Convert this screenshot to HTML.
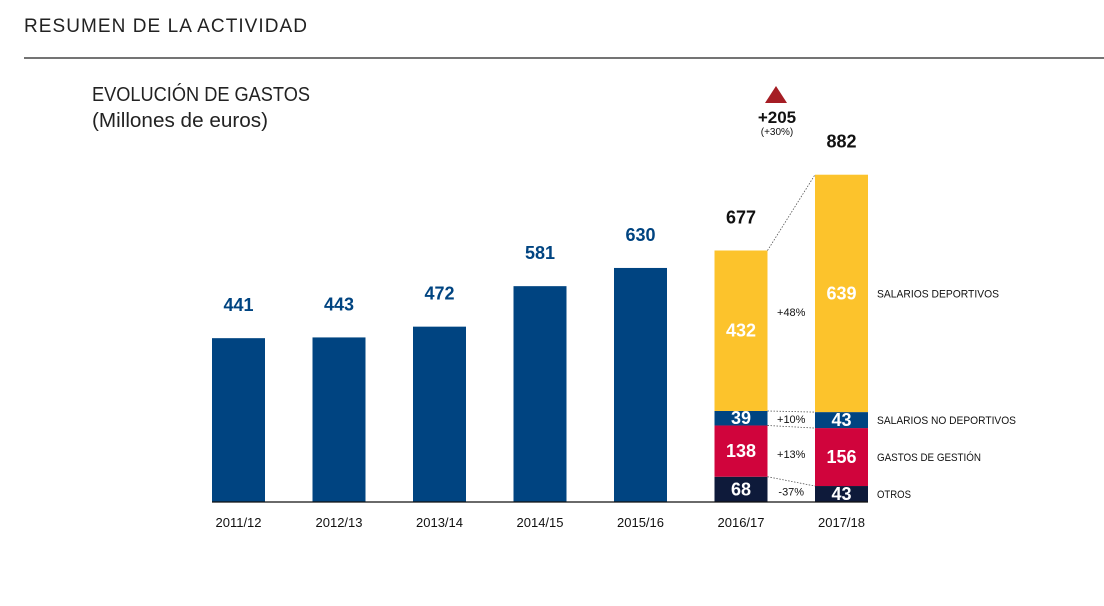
<!DOCTYPE html>
<html><head><meta charset="utf-8"><style>
body{margin:0;background:#fff;width:1104px;height:601px;overflow:hidden;font-family:"Liberation Sans",sans-serif}
</style></head><body>
<svg width="1104" height="601" xmlns="http://www.w3.org/2000/svg">
<text x="24" y="32" font-size="19" letter-spacing="1" fill="#222" textLength="284">RESUMEN DE LA ACTIVIDAD</text>
<line x1="24" y1="58" x2="1104" y2="58" stroke="#222" stroke-width="1.2"/>
<text x="92" y="101" font-size="20" fill="#222" textLength="218" lengthAdjust="spacingAndGlyphs">EVOLUCIÓN DE GASTOS</text>
<text x="92" y="127" font-size="20" fill="#222" textLength="176" lengthAdjust="spacingAndGlyphs">(Millones de euros)</text>
<g id="g"></g>
</svg>
<script>
const categories=["2011/12","2012/13","2013/14","2014/15","2015/16","2016/17","2017/18"];
const totals=[441,443,472,581,630,677,882];
const stackCats=["OTROS","GASTOS DE GESTIÓN","SALARIOS NO DEPORTIVOS","SALARIOS DEPORTIVOS"];
const stack1617=[68,138,39,432];
const stack1718=[43,156,43,639];
const changes=["-37%","+13%","+10%","+48%"];
const diffLabel="+205";
const diffPct="(+30%)";
const colors=["#0e1a3a","#d0043c","#004481","#fcc32c"];
const legendLen=[34,104,139,122];
const NS="http://www.w3.org/2000/svg";
const g=document.getElementById('g');
const base=502,k=0.3715,x0=212,step=100.5,bw=53;
const y=v=>base-v*k;
const xb=i=>x0+i*step;
function el(t,a,txt){const e=document.createElementNS(NS,t);for(const n in a)e.setAttribute(n,a[n]);if(txt!=null)e.textContent=txt;g.appendChild(e);return e;}
const fnt='"Liberation Sans Narrow","Liberation Sans",sans-serif';
categories.forEach((c,i)=>{
  const x=xb(i);
  if(i<5){
    const r=el('rect',{x:x,y:y(totals[i]),width:bw,height:totals[i]*k,fill:'#004481'});
    
    
    const t=el('text',{x:x+bw/2,y:y(totals[i])-27,'text-anchor':'middle','font-size':18,'font-weight':'bold','font-family':fnt,fill:'#004481'},totals[i]);
    
    
  } else {
    const s=i==5?stack1617:stack1718;let acc=0;
    s.forEach((v,j)=>{
      const r=el('rect',{x:x,y:y(acc+v),width:bw,height:v*k,fill:colors[j]});
      
      
      const cy=y(acc+v/2)+6;
      const t=el('text',{x:x+bw/2,y:cy,'text-anchor':'middle','font-size':18,'font-weight':'bold','font-family':fnt,fill:'#fff'},v);
      
      
      acc+=v;
    });
    const t=el('text',{x:x+bw/2,y:y(totals[i])-27,'text-anchor':'middle','font-size':18,'font-weight':'bold','font-family':fnt,fill:'#111'},totals[i]);
    
    
  }
  const l=el('text',{x:x+bw/2,y:base+25,'text-anchor':'middle','font-size':13,'font-family':fnt,fill:'#111'},c);
  
  
});
const ax=el('line',{x1:212,y1:base,x2:868,y2:base,stroke:'#111','stroke-width':1.2});


let a1=0,a2=0;
const xa=xb(5)+bw,xc=xb(6);
[0,1,2,3].forEach(j=>{
  a1+=stack1617[j];a2+=stack1718[j];
  const ln=el('line',{x1:xa,y1:y(a1),x2:xc,y2:y(a2),stroke:'#555','stroke-width':0.8,'stroke-dasharray':'1.5,1.5'});
  
  
  const m1=a1-stack1617[j]/2,m2=a2-stack1718[j]/2;
  const t=el('text',{x:(xa+xc)/2,y:(y(m1)+y(m2))/2+4,'text-anchor':'middle','font-size':11,'font-family':fnt,fill:'#111'},changes[j]);
  
  
  const lg=el('text',{x:877,y:y(m2)+4,'font-size':11,'font-family':fnt,fill:'#111',textLength:legendLen[j],lengthAdjust:'spacingAndGlyphs'},stackCats[j]);
  
  
});
const tri=el('polygon',{points:'765,103 776,86 787,103',fill:'#a51d24'});


const d1=el('text',{x:777,y:123,'text-anchor':'middle','font-size':17,'font-weight':'bold','font-family':fnt,fill:'#111'},diffLabel);


const d2=el('text',{x:777,y:135,'text-anchor':'middle','font-size':10,'font-family':fnt,fill:'#111'},diffPct);


</script>
</body></html>
